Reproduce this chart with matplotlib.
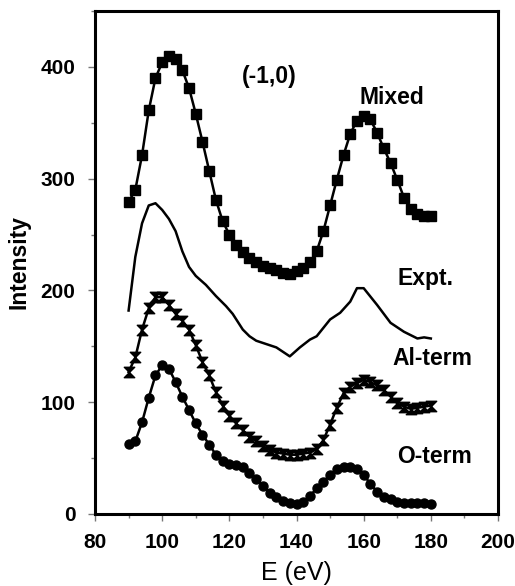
import matplotlib
matplotlib.use("Agg")
import matplotlib.pyplot as plt
from matplotlib.path import Path
from matplotlib.ticker import MultipleLocator, FuncFormatter

plt.rcParams['font.family'] = ['Liberation Sans', 'DejaVu Sans']

# energies (eV), 2 eV steps for the calculated curves
energy = list(range(90, 182, 2))

mixed = [279, 290, 321, 361, 390, 404, 410, 407, 397, 381, 358, 333, 307, 281,
         262, 250, 241, 234, 229, 225, 222, 220, 218, 216, 215, 217, 220, 225,
         235, 253, 276, 299, 321, 340, 352, 356, 353, 341, 327, 314, 299, 283,
         273, 268, 267, 267]

al_term = [127, 140, 165, 184, 194, 194, 187, 179, 173, 165, 151, 136, 124, 109,
           97, 88, 81, 75, 69, 65, 61, 57, 55, 54, 53, 53, 54, 55, 58, 66, 80,
           95, 108, 114, 117, 120, 118, 115, 111, 105, 99, 96, 94, 95, 96, 97]

o_term = [63, 65, 82, 104, 124, 133, 130, 118, 105, 93, 81, 71, 62, 53, 47, 45,
          44, 42, 37, 31, 25, 19, 15, 12, 10, 9, 11, 16, 23, 29, 35, 40, 42, 42,
          40, 35, 27, 20, 15, 13, 11, 10, 10, 10, 10, 9]

# experiment, plain line
expt_e = [90, 92, 94, 96, 98, 100, 102, 104, 106, 108, 110, 113, 116, 119, 121,
          124, 126, 128, 131, 134, 138, 141, 144, 146, 150, 153, 156, 158, 160,
          164, 168, 172, 176, 178, 180]
expt_i = [182, 230, 260, 276, 278, 272, 264, 253, 235, 221, 213, 205, 195, 186,
          179, 165, 159, 155, 152, 149, 141, 149, 156, 159, 174, 180, 190, 202,
          202, 187, 171, 163, 157, 158, 157]

labels = ["Mixed", "Expt.", "Al-term", "O-term"]
label_pos = [(168.5, 373), (178.5, 211), (180.5, 139), (181, 51)]

# hourglass marker
hourglass = Path([(-1, 1), (1, 1), (0, 0), (1, -1), (-1, -1), (0, 0), (-1, 1)],
                 [Path.MOVETO, Path.LINETO, Path.LINETO, Path.LINETO,
                  Path.LINETO, Path.LINETO, Path.CLOSEPOLY])

fig = plt.figure(figsize=(5.15, 5.86), dpi=100)
ax = fig.add_axes([0.1845, 0.1229, 0.7825, 0.8584])

ax.plot(energy, mixed, color='black', lw=1.8, marker='s', ms=6.5)
ax.plot(expt_e, expt_i, color='black', lw=1.8)
ax.plot(energy, al_term, color='black', lw=1.8, marker=hourglass, ms=7.5)
ax.plot(energy, o_term, color='black', lw=1.8, marker='o', ms=6.5)

for txt, (x, y) in zip(labels, label_pos):
    ax.text(x, y, txt, ha='center', va='center', fontsize=16.5,
            fontweight='bold')
ax.text(132, 391, "(-1,0)", ha='center', va='center', fontsize=16.5,
        fontweight='bold')

ax.set_xlim(80, 200)
ax.set_ylim(0, 450)
ax.xaxis.set_major_locator(MultipleLocator(20))
ax.xaxis.set_minor_locator(MultipleLocator(10))
ax.yaxis.set_major_locator(MultipleLocator(100))
ax.yaxis.set_minor_locator(MultipleLocator(50))
ax.xaxis.set_major_formatter(FuncFormatter(lambda v, p: f"{v:.0f}"))
ax.yaxis.set_major_formatter(FuncFormatter(lambda v, p: f"{v:.0f}"))

for s in ax.spines.values():
    s.set_linewidth(2.2)
ax.tick_params(which='major', length=5, width=1, color='#777777', pad=9,
               labelsize=15)
ax.tick_params(which='minor', length=3, width=1, color='#777777')

ax.set_xlabel("E (eV)", fontsize=18, labelpad=6)
ax.set_ylabel("Intensity", fontsize=16.5, fontweight='bold', labelpad=7)

fig.canvas.draw()
for axis in (ax.xaxis, ax.yaxis):
    for tick in axis.get_major_ticks():
        tick.label1.set_fontweight('heavy')

fig.savefig("out.png", dpi=100)
